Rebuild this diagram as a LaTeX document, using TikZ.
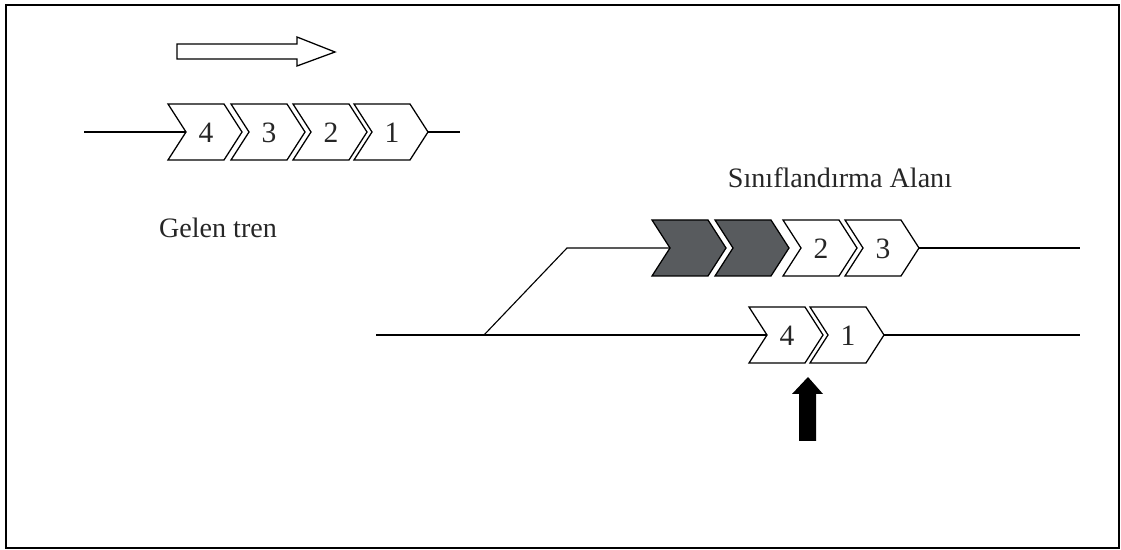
\documentclass[tikz,border=0pt]{standalone}
\usepackage{fontspec}
\setmainfont{Liberation Serif}
\usepackage{tikz}
\usetikzlibrary{positioning,calc}
\usepackage{xcolor}

\definecolor{wagondark}{RGB}{88,91,94}

% one wagon: name, left x, middle y, fill, number
\newcommand{\wagon}[5]{%
  \filldraw[wagonline, fill=#4] (#2,#3-28) -- ++(56,0) -- ++(18,28) -- ++(-18,28)
      -- ++(-56,0) -- ++(18,-28) -- cycle;
  \coordinate (#1-in) at (#2+18,#3);
  \coordinate (#1-out) at (#2+74,#3);
  \node[num] (#1) at (#2+38,#3+1) {#5};
}

\begin{document}
\begin{tikzpicture}[
    x=0.025cm, y=-0.025cm,
    wagonline/.style={draw=black, line width=0.9pt, line join=miter},
    track/.style={draw, line width=0.8pt},
    num/.style={inner sep=0pt, font=\fontsize{21}{25}\selectfont, text=black!85},
    caption/.style={inner sep=0pt, font=\fontsize{20}{24}\selectfont, text=black!85}
]
\useasboundingbox (0,0) rectangle (1121,550);
\draw[line width=1.3pt] (6,5) rectangle (1119,548);

% direction of travel
\draw[line width=0.9pt] (177,44) -- (297,44) -- (297,37) -- (335,52) -- (297,66)
    -- (297,59) -- (177,59) -- cycle;

% incoming train
\foreach \n/\x in {4/168, 3/231, 2/293, 1/354}
    \wagon{in\n}{\x}{132}{white}{\n};
\coordinate (inleft) at (84,132);
\coordinate (inright) at (460,132);
\draw[track] (inleft) -- (in4-in);
\draw[track] (in1-out) -- (inright);
\node[caption] (gelen) at (218,228) {Gelen tren};

% classification yard
\node[caption] (alan) at (840,178) {Sınıflandırma Alanı};

\wagon{d1}{652}{248}{wagondark}{}
\wagon{d2}{715}{248}{wagondark}{}
\wagon{up2}{783}{248}{white}{2}
\wagon{up3}{845}{248}{white}{3}
\wagon{lo4}{749}{335}{white}{4}
\wagon{lo1}{810}{335}{white}{1}

\coordinate (mainleft) at (376,335);
\coordinate (mainright) at (1080,335);
\coordinate (switch) at (484,335);
\coordinate (bend) at (567,248);
\coordinate (upright) at (1080,248);

\draw[track] (switch) -- (bend) -- (d1-in);
\draw[track] (up3-out) -- (upright);
\draw[track] (mainleft) -- (lo4-in);
\draw[track] (lo1-out) -- (mainright);

% shunting position
\fill[black] (799,441) -- (799,394) -- (792,394) -- (808,377) -- (823,394)
    -- (816,394) -- (816,441) -- cycle;

\end{tikzpicture}
\end{document}
